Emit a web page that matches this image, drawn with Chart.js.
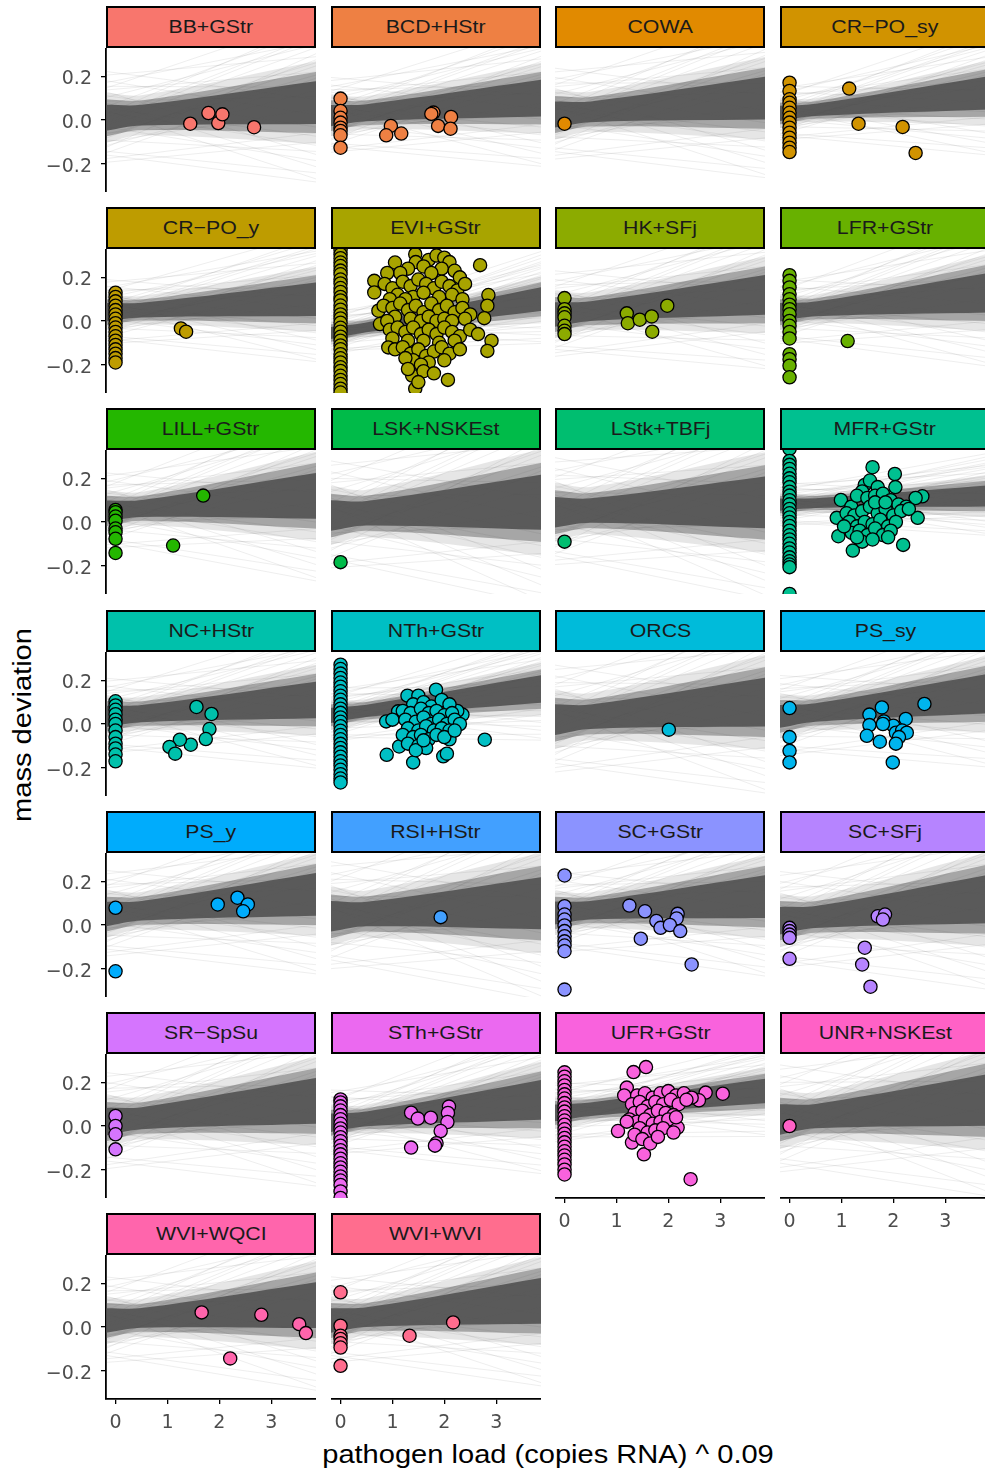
<!DOCTYPE html>
<html>
<head>
<meta charset="utf-8">
<script src="https://cdn.jsdelivr.net/npm/chart.js@4.4.1/dist/chart.umd.min.js"></script>
<style>
  body { margin: 0; background: #fff; width: 985px; height: 1472px; overflow: hidden; position: relative;
         font-family: "Liberation Sans", Arial, sans-serif; }
  canvas { position: absolute; }
  .strip { position: absolute; box-sizing: border-box; border: 2.5px solid #000; width: 210px; height: 42px;
           display: flex; align-items: center; justify-content: center; color: #1a1a1a; font-size: 19px; }
  .strip span { display: inline-block; transform: scaleX(1.12); white-space: nowrap; }
  .ttl span { display: inline-block; transform: scaleX(1.14); white-space: nowrap; }
  .ttl { position: absolute; font-size: 25.5px; color: #000; white-space: nowrap; }
</style>
</head>
<body>
<div class="ttl" id="ytitle" style="left:22px;top:725px;transform:translate(-50%,-50%) rotate(-90deg);"><span>mass deviation</span></div>
<div class="ttl" id="xtitle" style="left:548px;top:1454px;transform:translate(-50%,-50%);"><span>pathogen load (copies RNA) ^ 0.09</span></div>
<script>
// facet labels
const panelNames = ['BB+GStr', 'BCD+HStr', 'COWA', 'CR−PO_sy', 'CR−PO_y', 'EVI+GStr', 'HK+SFj', 'LFR+GStr',
  'LILL+GStr', 'LSK+NSKEst', 'LStk+TBFj', 'MFR+GStr', 'NC+HStr', 'NTh+GStr', 'ORCS', 'PS_sy',
  'PS_y', 'RSI+HStr', 'SC+GStr', 'SC+SFj', 'SR−SpSu', 'STh+GStr', 'UFR+GStr', 'UNR+NSKEst', 'WVI+WQCI', 'WVI+WVI'];

// observed points [x, y] per panel
const panelPoints = [
  [[1.44,-0.017],[1.79,0.032],[1.98,-0.014],[2.06,0.026],[2.67,-0.033]],
  [[0,0.098],[0,0.041],[0,0.01],[0,-0.012],[0,-0.035],[0,-0.05],[0,-0.07],[0,-0.127],[0.97,-0.027],[0.88,-0.07],[1.17,-0.062],[1.79,0.034],[1.75,0.028],[2.13,0.014],[1.88,-0.027],[2.12,-0.04]],
  [[0,-0.017]],
  [[0,0.171],[0,0.133],[0,0.095],[0,0.079],[0,0.056],[0,0.033],[0,0.01],[0,-0.012],[0,-0.035],[0,-0.058],[0,-0.081],[0,-0.104],[0,-0.127],[0,-0.147],[1.15,0.144],[1.33,-0.017],[2.18,-0.032],[2.43,-0.151]],
  [[0,0.13],[0,0.11],[0,0.09],[0,0.07],[0,0.05],[0,0.03],[0,0.01],[0,-0.01],[0,-0.03],[0,-0.05],[0,-0.07],[0,-0.09],[0,-0.11],[0,-0.13],[0,-0.15],[0,-0.17],[0,-0.19],[1.26,-0.034],[1.36,-0.049]],
  [[0,0.325],[0,0.305],[0,0.288],[0,0.268],[0,0.252],[0,0.231],[0,0.214],[0,0.19],[0,0.172],[0,0.151],[0,0.133],[0,0.11],[0,0.094],[0,0.071],[0,0.052],[0,0.03],[0,0.012],[0,-0.008],[0,-0.031],[0,-0.049],[0,-0.072],[0,-0.09],[0,-0.112],[0,-0.129],[0,-0.152],[0,-0.171],[0,-0.19],[0,-0.212],[0,-0.229],[0,-0.251],[0,-0.27],[0,-0.289],[0,-0.31],[0,-0.328],
   [1.05,0.268],[1.44,0.306],[1.45,0.27],[1.7,0.28],[1.85,0.3],[2.0,0.29],[2.1,0.27],[1.3,0.24],[1.6,0.25],[1.95,0.24],[2.2,0.23],[1.15,0.22],[0.9,0.22],[2.69,0.256],[0.65,0.184],[1.75,0.22],[2.3,0.2],
   [0.65,0.131],[0.85,0.17],[1.0,0.15],[1.2,0.18],[1.35,0.16],[1.5,0.19],[1.65,0.17],[1.8,0.15],[1.95,0.18],[2.1,0.16],[2.25,0.14],[2.4,0.17],[2.85,0.119],[1.1,0.12],[1.4,0.11],[1.6,0.13],[1.9,0.11],[2.15,0.12],[2.35,0.1],[1.25,0.1],[0.95,0.1],
   [0.73,0.047],[0.83,0.07],[1.0,0.06],[1.15,0.08],[1.3,0.05],[1.45,0.07],[1.6,0.04],[1.75,0.08],[1.9,0.05],[2.05,0.07],[2.2,0.04],[2.35,0.06],[2.5,0.03],[2.83,0.07],[2.77,0.013],[1.05,0.02],[1.35,0.01],[1.55,0.0],[1.7,0.02],[1.85,0.0],[2.0,0.01],[2.15,0.0],[2.4,0.01],[0.76,-0.014],[0.9,0.0],
   [0.95,-0.04],[1.1,-0.03],[1.25,-0.05],[1.4,-0.03],[1.55,-0.06],[1.7,-0.04],[1.85,-0.06],[2.0,-0.03],[2.15,-0.05],[2.3,-0.07],[2.5,-0.04],[2.65,-0.06],[1.0,-0.08],[1.3,-0.09],[1.6,-0.09],[1.9,-0.1],[2.2,-0.09],[2.91,-0.09],[0.92,-0.121],
   [1.05,-0.13],[1.2,-0.12],[1.35,-0.15],[1.5,-0.13],[1.65,-0.16],[1.8,-0.14],[1.95,-0.12],[2.1,-0.15],[2.3,-0.13],[2.83,-0.137],[1.4,-0.18],[1.7,-0.19],[2.0,-0.18],[1.25,-0.17],[1.55,-0.2],
   [1.38,-0.25],[1.44,-0.31],[2.07,-0.27],[1.6,-0.23],[1.5,-0.28],[1.8,-0.24],[1.3,-0.22]],
  [[0,0.105],[0,0.054],[0,0.035],[0,0.017],[0,-0.022],[0,-0.045],[0,-0.06],[1.2,0.035],[1.22,-0.01],[1.45,0.006],[1.68,0.021],[1.69,-0.049],[1.98,0.07]],
  [[0,0.21],[0,0.184],[0,0.154],[0,0.123],[0,0.1],[0,0.075],[0,0.054],[0,0.031],[0,0.0],[0,-0.022],[0,-0.05],[0,-0.08],[0,-0.152],[0,-0.175],[0,-0.205],[0,-0.258],[1.12,-0.092]],
  [[0,0.055],[0,0.045],[0,0.025],[0,0.006],[0,-0.03],[0,-0.047],[0,-0.077],[0,-0.142],[1.69,0.121],[1.11,-0.108]],
  [[0,-0.184]],
  [[0,-0.09]],
  [[0,0.335],[0,0.28],[0,0.262],[0,0.243],[0,0.221],[0,0.2],[0,0.182],[0,0.16],[0,0.139],[0,0.121],[0,0.1],[0,0.081],[0,0.06],[0,0.04],[0,0.021],[0,0.0],[0,-0.018],[0,-0.04],[0,-0.061],[0,-0.08],[0,-0.1],[0,-0.121],[0,-0.14],[0,-0.162],[0,-0.18],[0,-0.195],[0,-0.207],[0,-0.33],
   [1.6,0.251],[2.03,0.22],[2.04,0.16],[2.56,0.118],[2.43,0.11],[2.47,0.019],[2.19,-0.105],[1.22,-0.131],[0.94,-0.065],[0.91,0.019],[0.99,0.101],[1.19,0.07],[1.45,0.17],[1.4,0.14],[1.55,0.19],[1.7,0.16],[1.3,0.12],[1.5,0.11],[1.65,0.12],[1.8,0.13],[1.95,0.1],[2.1,0.08],[2.25,0.07],[1.1,0.04],[1.25,0.03],[1.4,0.05],[1.55,0.07],[1.7,0.04],[1.85,0.06],[2.0,0.03],[2.15,0.05],[2.3,0.06],[1.15,0.0],[1.3,-0.02],[1.45,0.0],[1.6,-0.01],[1.75,0.01],[1.9,-0.02],[2.05,0.0],[1.2,-0.05],[1.35,-0.04],[1.5,-0.06],[1.65,-0.03],[1.8,-0.06],[1.95,-0.04],[1.05,-0.02],[1.4,-0.09],[1.6,-0.08],[1.9,-0.07],[1.3,-0.07],[1.65,0.09],[1.85,0.09]],
  [[0,0.104],[0,0.085],[0,0.065],[0,0.045],[0,0.02],[0,0.0],[0,-0.03],[0,-0.06],[0,-0.09],[0,-0.112],[0,-0.14],[0,-0.171],[1.56,0.078],[1.85,0.046],[1.81,-0.023],[1.74,-0.069],[1.45,-0.095],[1.24,-0.072],[1.04,-0.105],[1.15,-0.136]],
  [[0,0.272],[0,0.252],[0,0.231],[0,0.211],[0,0.19],[0,0.171],[0,0.15],[0,0.13],[0,0.111],[0,0.09],[0,0.07],[0,0.051],[0,0.03],[0,0.01],[0,-0.01],[0,-0.031],[0,-0.05],[0,-0.07],[0,-0.091],[0,-0.11],[0,-0.13],[0,-0.15],[0,-0.171],[0,-0.19],[0,-0.21],[0,-0.23],[0,-0.25],[0,-0.268],
   [1.84,0.157],[1.29,0.13],[1.5,0.13],[1.11,0.058],[0.88,0.012],[2.78,-0.072],[2.35,0.043],[2.25,0.06],[0.89,-0.141],[1.4,-0.176],[1.98,-0.148],[2.05,-0.136],[1.13,-0.103],[2.1,-0.07],[1.4,0.09],[1.6,0.1],[1.75,0.08],[1.95,0.11],[2.1,0.09],[1.2,0.06],[1.35,0.05],[1.55,0.07],[1.7,0.05],[1.85,0.06],[2.0,0.04],[2.15,0.05],[1.0,0.02],[1.25,0.02],[1.45,0.01],[1.6,0.03],[1.75,0.0],[1.9,0.02],[2.05,0.0],[2.2,0.02],[2.3,0.0],[1.3,-0.02],[1.5,-0.03],[1.65,-0.01],[1.8,-0.03],[1.95,-0.02],[2.1,-0.03],[1.2,-0.05],[1.4,-0.06],[1.55,-0.05],[1.7,-0.07],[1.85,-0.05],[2.0,-0.06],[1.3,-0.09],[1.5,-0.1],[1.65,-0.11],[1.45,-0.12],[1.6,-0.075],[2.2,-0.03]],
  [[2.01,-0.026]],
  [[0,0.073],[0,-0.06],[0,-0.123],[0,-0.176],[2.6,0.092],[1.78,0.076],[1.54,0.043],[1.82,0.012],[2.24,0.023],[1.54,-0.005],[1.49,-0.054],[1.74,-0.081],[2.0,-0.008],[2.05,-0.04],[2.17,-0.03],[2.26,-0.04],[2.11,-0.06],[2.05,-0.09],[1.99,-0.176],[1.8,0.0]],
  [[0,0.079],[0,-0.212],[1.97,0.094],[2.35,0.125],[2.55,0.094],[2.46,0.063]],
  [[1.93,0.036]],
  [[0,0.227],[0,0.086],[0,0.048],[0,0.025],[0,-0.002],[0,-0.028],[0,-0.051],[0,-0.075],[0,-0.094],[0,-0.12],[0,-0.296],[1.25,0.089],[1.55,0.063],[1.77,0.018],[2.18,0.051],[2.16,0.03],[1.85,-0.013],[2.03,0.0],[2.23,-0.028],[1.47,-0.063],[2.45,-0.181]],
  [[0,-0.013],[0,-0.028],[0,-0.044],[0,-0.059],[0,-0.155],[1.7,0.04],[1.84,0.048],[1.8,0.025],[1.45,-0.104],[1.4,-0.181],[1.56,-0.283]],
  [[0,0.046],[0,0.0],[0,-0.038],[0,-0.107]],
  [[0,0.122],[0,0.108],[0,0.09],[0,0.071],[0,0.05],[0,0.031],[0,0.01],[0,-0.011],[0,-0.03],[0,-0.051],[0,-0.07],[0,-0.09],[0,-0.111],[0,-0.13],[0,-0.15],[0,-0.171],[0,-0.19],[0,-0.21],[0,-0.231],[0,-0.25],[0,-0.27],[0,-0.3],[0,-0.33],
   [1.36,0.061],[1.49,0.034],[1.74,0.038],[1.36,-0.099],[2.09,0.089],[2.07,0.06],[2.06,0.018],[1.93,-0.023],[1.85,-0.079],[1.82,-0.09]],
  [[0,0.246],[0,0.226],[0,0.205],[0,0.186],[0,0.165],[0,0.145],[0,0.126],[0,0.105],[0,0.085],[0,0.066],[0,0.045],[0,0.025],[0,0.006],[0,-0.015],[0,-0.035],[0,-0.055],[0,-0.075],[0,-0.095],[0,-0.116],[0,-0.135],[0,-0.155],[0,-0.176],[0,-0.2],[0,-0.222],
   [1.57,0.27],[1.33,0.247],[1.2,0.176],[1.15,0.14],[3.05,0.148],[2.72,0.153],[2.59,0.118],[2.43,-0.244],[1.03,-0.023],[1.3,-0.076],[1.53,-0.13],[1.69,-0.05],[2.18,-0.007],[1.4,0.14],[1.55,0.15],[1.7,0.13],[1.85,0.15],[2.0,0.16],[2.15,0.14],[2.3,0.15],[2.45,0.13],[1.3,0.1],[1.45,0.11],[1.6,0.09],[1.75,0.11],[1.9,0.1],[2.05,0.12],[2.2,0.1],[2.35,0.12],[1.35,0.06],[1.5,0.07],[1.65,0.05],[1.8,0.07],[1.95,0.06],[2.1,0.05],[1.25,0.03],[1.4,0.02],[1.55,0.03],[1.7,0.01],[1.85,0.02],[2.0,0.03],[2.15,0.04],[1.45,-0.01],[1.6,-0.03],[1.75,-0.02],[1.9,-0.01],[1.35,-0.04],[1.5,-0.06],[1.65,-0.08],[1.8,-0.05],[2.1,-0.03],[1.2,0.02]],
  [[0,0.0]],
  [[1.66,0.067],[2.21,-0.144],[2.81,0.056],[3.54,0.013],[3.67,-0.028]],
  [[0,0.159],[0,0.006],[0,-0.04],[0,-0.055],[0,-0.074],[0,-0.094],[0,-0.178],[1.33,-0.04],[2.17,0.021]]
];

// posterior band: centre and dense half-width at the left and right panel edges
const bandLeftMid   = [0.01, 0.02, 0.025, 0.03, 0.04, -0.055, 0.03, 0.04, 0.05, 0.03, 0.045, 0.08, 0.035, 0.04, 0.02, 0.035, 0.05, 0.04, 0.055, 0.02, 0.02, 0.015, 0.06, 0.03, 0.03, 0.03];
const bandRightMid  = [0.08, 0.10, 0.10, 0.125, 0.10, 0.10, 0.12, 0.13, 0.12, 0.09, 0.09, 0.12, 0.11, 0.16, 0.10, 0.14, 0.14, 0.10, 0.13, 0.12, 0.115, 0.12, 0.16, 0.12, 0.10, 0.12];
const bandLeftHalf  = [0.085, 0.07, 0.085, 0.05, 0.06, 0.04, 0.08, 0.06, 0.07, 0.10, 0.10, 0.04, 0.07, 0.05, 0.10, 0.075, 0.08, 0.10, 0.075, 0.09, 0.09, 0.06, 0.055, 0.10, 0.08, 0.08];
const bandRightHalf = [0.14, 0.12, 0.14, 0.11, 0.11, 0.078, 0.13, 0.13, 0.15, 0.18, 0.17, 0.07, 0.12, 0.09, 0.16, 0.13, 0.14, 0.17, 0.14, 0.16, 0.15, 0.13, 0.08, 0.17, 0.15, 0.15];

// faint individual draws, as multiples of the half-width at each edge
const lineFracL = [-2.2, -1.8, -1.5, -1.2, -1.0, -0.8, -0.5, -0.3, 0.0, 0.3, 0.6, 0.9, 1.2, 1.5, 1.9, 2.3, -1.6, 1.4, -0.9, 0.8, -2.0, 1.7, -0.4, 0.5, -1.3, 1.1, 2.0, -2.4, 0.2, -0.6, 1.6, -1.1, 0.4, -0.2, 2.5, -1.9];
const lineFracR = [-1.0, -2.3, 0.4, -1.6, 1.2, -0.6, -1.9, 1.8, 2.2, -1.4, 2.4, 0.2, -0.8, 1.0, 2.0, 1.5, 1.6, -1.7, 0.9, -2.1, -2.6, 0.5, 1.3, -1.1, -0.2, 1.9, -0.4, -1.3, 2.6, 0.7, 2.8, 1.4, -2.5, 2.1, 0.1, 0.8];

const xTicks = [0, 1, 2, 3];
const xTickLabels = ['0', '1', '2', '3'];
const yTicks = [-0.2, 0, 0.2];
const yTickLabels = ['−0.2', '0.0', '0.2'];

const xMin = -0.184, xMax = 3.864, yMin = -0.33, yMax = 0.33;
const xPinch = 0.5, pinch = 0.8;

// ggplot default hue palette (polar LUV)
function hcl(h, c, l) {
  const Xn = 95.047, Yn = 100, Zn = 108.883;
  const Y = l > 7.999592 ? Yn * Math.pow((l + 16) / 116, 3) : Yn * l / 903.3;
  const hr = h * Math.PI / 180, u = c * Math.cos(hr), v = c * Math.sin(hr);
  const den = Xn + 15 * Yn + 3 * Zn;
  const up = u / (13 * l) + 4 * Xn / den, vp = v / (13 * l) + 9 * Yn / den;
  const X = 9 * Y * up / (4 * vp);
  const Z = -X / 3 - 5 * Y + 3 * Y / vp;
  const lin = [3.240479 * X - 1.537150 * Y - 0.498535 * Z,
              -0.969256 * X + 1.875992 * Y + 0.041556 * Z,
               0.055648 * X - 0.204043 * Y + 1.057311 * Z].map(x => x / 100);
  const g = x => x <= 0.0031308 ? 12.92 * x : 1.055 * Math.pow(x, 1 / 2.4) - 0.055;
  return 'rgb(' + lin.map(x => Math.round(255 * Math.min(1, Math.max(0, g(x))))).join(',') + ')';
}

const colLeft = [106, 330.7, 555.3, 780];
const panelW = 210, stripH = 42, plotH = 144, rowStep = 201.2, top0 = 6;
const lastRowOfCol = [6, 6, 5, 5];

panelNames.forEach((name, i) => {
  const r = Math.floor(i / 4), c = i % 4;
  const color = hcl(15 + i * 360 / panelNames.length, 100, 65);
  const stripTop = top0 + r * rowStep;
  const plotTop = stripTop + stripH;
  const showY = c === 0, showX = r === lastRowOfCol[c];
  const axisW = showY ? colLeft[0] : 0;
  const axisH = showX ? 55 : 0;

  const cv = document.createElement('canvas');
  cv.width = panelW + axisW;
  cv.height = plotH + axisH;
  cv.style.left = (colLeft[c] - axisW) + 'px';
  cv.style.top = plotTop + 'px';
  cv.style.width = cv.width + 'px';
  cv.style.height = cv.height + 'px';
  document.body.appendChild(cv);

  const strip = document.createElement('div');
  strip.className = 'strip';
  strip.style.left = colLeft[c] + 'px';
  strip.style.top = stripTop + 'px';
  strip.style.background = color;
  strip.innerHTML = '<span></span>';
  strip.firstChild.textContent = name;
  document.body.appendChild(strip);

  const cL = bandLeftMid[i], cR = bandRightMid[i], hL = bandLeftHalf[i], hR = bandRightHalf[i];
  const tP = (xPinch - xMin) / (xMax - xMin);
  const cP = cL + (cR - cL) * tP, hP = hL * pinch;
  const datasets = [];
  lineFracL.forEach((f, k) => {
    datasets.push({
      data: [{ x: xMin, y: cL + f * hL }, { x: xMax, y: cR + lineFracR[k] * hR }],
      borderColor: 'rgba(77,77,77,0.14)', borderWidth: 0.7, pointRadius: 0, fill: false, clip: 0, order: 5
    });
  });
  [[1.35, 0.14, 4], [1.0, 0.42, 3], [0.7, 0.85, 2]].forEach(([m, a, ord]) => {
    datasets.push({
      data: [{ x: xMin, y: cL - m * hL }, { x: xPinch, y: cP - m * hP }, { x: xMax, y: cR - m * hR }],
      borderColor: 'rgba(0,0,0,0)', borderWidth: 0, pointRadius: 0, fill: false, clip: 0, order: ord,
      tension: 0.35
    });
    datasets.push({
      data: [{ x: xMin, y: cL + m * hL }, { x: xPinch, y: cP + m * hP }, { x: xMax, y: cR + m * hR }],
      borderColor: 'rgba(0,0,0,0)', borderWidth: 0, pointRadius: 0, fill: '-1',
      backgroundColor: 'rgba(77,77,77,' + a + ')', clip: 0, order: ord, tension: 0.35
    });
  });
  datasets.push({
    data: panelPoints[i].map(p => ({ x: p[0], y: p[1] })),
    showLine: false, pointRadius: 6.6, pointBorderWidth: 1.3, pointBorderColor: '#000',
    pointBackgroundColor: color, clip: 0, order: 0
  });

  new Chart(cv, {
    type: 'line',
    data: { datasets },
    options: {
      responsive: false,
      animation: false,
      events: [],
      layout: { padding: 0, autoPadding: false },
      plugins: { legend: { display: false }, tooltip: { enabled: false } },
      scales: {
        x: {
          type: 'linear', min: xMin, max: xMax, display: showX,
          afterBuildTicks: s => { s.ticks = xTicks.map(v => ({ value: v })); },
          afterFit: s => { s.height = axisH; s.paddingLeft = 0; s.paddingRight = 0; },
          grid: { display: true, drawOnChartArea: false, drawTicks: true, tickLength: 5, color: '#000', lineWidth: 1.3 },
          border: { display: true, color: '#000', width: 1.8 },
          ticks: {
            font: { family: 'DejaVu Sans', size: 19 }, color: '#4d4d4d', padding: 8,
            maxRotation: 0, autoSkip: false,
            callback: (v) => xTickLabels[xTicks.indexOf(v)]
          }
        },
        y: {
          type: 'linear', min: yMin, max: yMax, display: showY,
          afterBuildTicks: s => { s.ticks = yTicks.map(v => ({ value: v })); },
          afterFit: s => { s.width = axisW; s.paddingTop = 0; s.paddingBottom = 0; },
          grid: { display: true, drawOnChartArea: false, drawTicks: true, tickLength: 5, color: '#000', lineWidth: 1.3 },
          border: { display: true, color: '#000', width: 1.8 },
          ticks: {
            font: { family: 'DejaVu Sans', size: 19 }, color: '#4d4d4d', padding: 9, labelOffset: 3,
            callback: (v) => yTickLabels[yTicks.indexOf(v)]
          }
        }
      }
    }
  });
});
</script>
</body>
</html>
